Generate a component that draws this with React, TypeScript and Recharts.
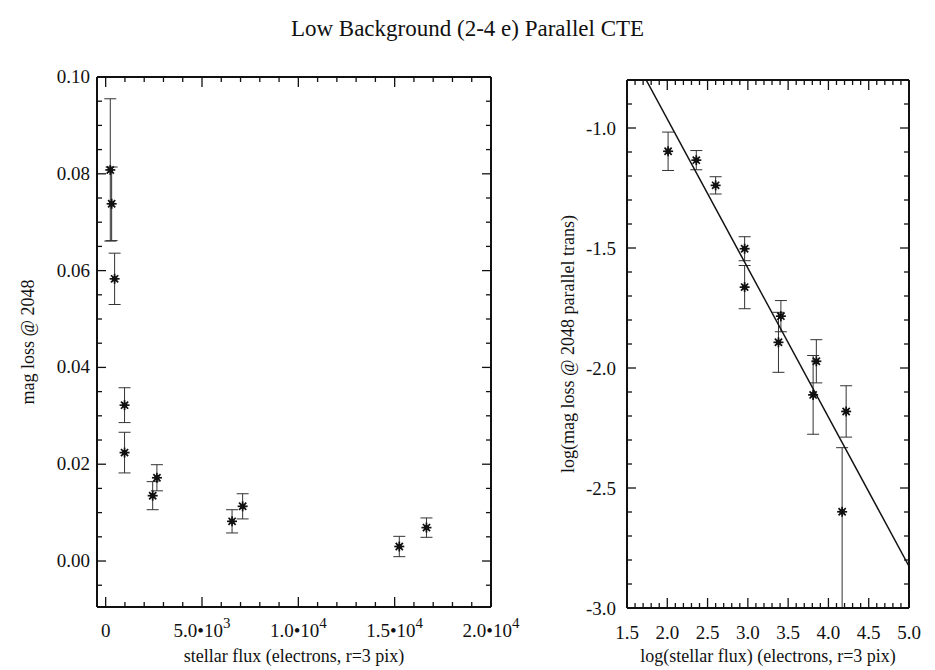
import React from 'react';
import { ScatterChart, Scatter, XAxis, YAxis, ErrorBar } from 'recharts';

// ---------- Left panel data ----------
const leftFlux = [240, 310, 464, 980, 980, 2440, 2660, 6560, 7110, 15240, 16650];
const leftMag = [0.0808, 0.0738, 0.0583, 0.0322, 0.0224, 0.0135, 0.0172, 0.0082, 0.0113, 0.003, 0.0069];
const leftErr = [0.0147, 0.0076, 0.0053, 0.0036, 0.0042, 0.0029, 0.0027, 0.0024, 0.0026, 0.0021, 0.002];

const leftXMajor = [0, 5000, 10000, 15000, 20000];
const leftXMantissa = ['0', '5.0\u202210', '1.0\u202210', '1.5\u202210', '2.0\u202210'];
const leftXExponent = ['', '3', '4', '4', '4'];
const leftXMinor = [1000, 2000, 3000, 4000, 6000, 7000, 8000, 9000, 11000, 12000, 13000, 14000, 16000, 17000, 18000, 19000];
const leftYMajor = [0, 0.02, 0.04, 0.06, 0.08, 0.1];
const leftYMinor = [-0.005, 0.005, 0.01, 0.015, 0.025, 0.03, 0.035, 0.045, 0.05, 0.055, 0.065, 0.07, 0.075, 0.085, 0.09, 0.095];

// ---------- Right panel data ----------
const logFlux = [2.01, 2.36, 2.6, 2.96, 2.96, 3.41, 3.38, 3.85, 3.81, 4.22, 4.17];
const logMag = [-1.097, -1.134, -1.239, -1.503, -1.663, -1.784, -1.893, -1.972, -2.112, -2.181, -2.599];
const logErrLow = [0.08, 0.04, 0.036, 0.05, 0.09, 0.065, 0.125, 0.09, 0.164, 0.107, 0.401];
const logErrHigh = [0.08, 0.04, 0.036, 0.05, 0.09, 0.065, 0.125, 0.09, 0.164, 0.107, 0.267];

const fitX = [1.738, 5.0];
const fitY = [-0.8, -2.826];

const rightXMajor = [1.5, 2.0, 2.5, 3.0, 3.5, 4.0, 4.5, 5.0];
const rightXMinor = [1.6, 1.7, 1.8, 1.9, 2.1, 2.2, 2.3, 2.4, 2.6, 2.7, 2.8, 2.9, 3.1, 3.2, 3.3, 3.4, 3.6, 3.7, 3.8, 3.9, 4.1, 4.2, 4.3, 4.4, 4.6, 4.7, 4.8, 4.9];
const rightYMajor = [-3.0, -2.5, -2.0, -1.5, -1.0];
const rightYMinor = [-2.9, -2.8, -2.7, -2.6, -2.4, -2.3, -2.2, -2.1, -1.9, -1.8, -1.7, -1.6, -1.4, -1.3, -1.2, -1.1, -0.9];

const leftData = leftFlux.map((x, i) => ({ x, y: leftMag[i], err: leftErr[i] }));
const rightData = logFlux.map((x, i) => ({ x, y: logMag[i], err: [logErrLow[i], logErrHigh[i]] }));
const fitData = fitX.map((x, i) => ({ x, y: fitY[i] }));

const SERIF = 'Liberation Serif';
const INK = '#111';

const Asterisk = (props: any) => {
  const { cx, cy } = props;
  if (cx == null || cy == null) return <g />;
  const r = 5;
  const d = r * 0.72;
  return (
    <g stroke={INK} strokeWidth={1.7}>
      <line x1={cx - r} y1={cy} x2={cx + r} y2={cy} />
      <line x1={cx} y1={cy - r} x2={cx} y2={cy + r} />
      <line x1={cx - d} y1={cy - d} x2={cx + d} y2={cy + d} />
      <line x1={cx - d} y1={cy + d} x2={cx + d} y2={cy - d} />
      <rect x={cx - 2.5} y={cy - 2.5} width={5} height={5} fill={INK} stroke="none" />
    </g>
  );
};

const NoShape = () => <g />;

const merge = (a: number[], b: number[]) => [...a, ...b].sort((p, q) => p - q);
const isIn = (arr: number[], v: number) => arr.some((m) => Math.abs(m - v) < 1e-9);

// Top axis tick: inward tick at the top edge
function makeTopTick(majors: number[]) {
  return (props: any) => {
    const x = Number(props.x);
    const y = Number(props.y);
    const len = isIn(majors, Number(props.payload.value)) ? 10 : 5;
    return <line x1={x} y1={y} x2={x} y2={y + len} stroke={INK} strokeWidth={1.3} />;
  };
}
// Right axis tick: inward tick at the right edge
function makeRightTick(majors: number[]) {
  return (props: any) => {
    const x = Number(props.x);
    const y = Number(props.y);
    const len = isIn(majors, Number(props.payload.value)) ? 9 : 5;
    return <line x1={x} y1={y} x2={x - len} y2={y} stroke={INK} strokeWidth={1.3} />;
  };
}

// Tick labels (drawn by outer axes)
const LeftXLabel = (props: any) => {
  const x = Number(props.x);
  const y = Number(props.y);
  const idx = leftXMajor.findIndex((m) => Math.abs(m - Number(props.payload.value)) < 1e-9);
  if (idx < 0) return <g />;
  return (
    <text x={x} y={y + 30} textAnchor="middle" fontFamily={SERIF} fontSize={19} fill={INK}>
      <tspan>{leftXMantissa[idx]}</tspan>
      {leftXExponent[idx] ? <tspan dy={-9} fontSize={15}>{leftXExponent[idx]}</tspan> : null}
    </text>
  );
};
const LeftYLabel = (props: any) => (
  <text x={Number(props.x) - 7} y={Number(props.y) + 6} textAnchor="end" fontFamily={SERIF} fontSize={19} fill={INK}>
    {Number(props.payload.value).toFixed(2)}
  </text>
);
const RightXLabel = (props: any) => (
  <text x={Number(props.x)} y={Number(props.y) + 31} textAnchor="middle" fontFamily={SERIF} fontSize={19} fill={INK}>
    {Number(props.payload.value).toFixed(1)}
  </text>
);
const RightYLabel = (props: any) => (
  <text x={Number(props.x) - 11} y={Number(props.y) + 7} textAnchor="end" fontFamily={SERIF} fontSize={19} fill={INK}>
    {Number(props.payload.value).toFixed(1)}
  </text>
);

// chart geometry
const L_LEFT = 0, L_W = 520, L_H = 670, L_M = { top: 77, right: 29, bottom: 0, left: 0 }, L_XH = 63, L_YW = 97;
const R_LEFT = 520, R_W = 415, R_H = 670, R_M = { top: 80, right: 26, bottom: 0, left: 0 }, R_XH = 62, R_YW = 107;

const LeftTopTick = makeTopTick(leftXMajor);
const LeftRightTick = makeRightTick(leftYMajor);
const RightTopTick = makeTopTick(rightXMajor);
const RightRightTick = makeRightTick(rightYMajor);

const frameLine = { stroke: INK, strokeWidth: 2 };

const LEFT_X_DOMAIN = [-450, 20000];
const LEFT_Y_DOMAIN = [-0.0095, 0.1];
const RIGHT_X_DOMAIN = [1.5, 5.0];
const RIGHT_Y_DOMAIN = [-3.0, -0.8];

const labelStyle = { fontFamily: SERIF, fontSize: 18, fill: INK };

function frameAxes(xDomain: number[], yDomain: number[], xTicks: number[], yTicks: number[], top: any, right: any, data: any[]) {
  const c = { type: 'number' as const, allowDataOverflow: true, interval: 0 as const, tickSize: 0, tickMargin: 0, tickLine: false, mirror: true };
  return [
    <XAxis key="xt" xAxisId="xt" dataKey="x" orientation="top" domain={xDomain} ticks={xTicks} tick={top} height={1} axisLine={frameLine} {...c} />,
    <YAxis key="yr" yAxisId="yr" dataKey="y" orientation="right" domain={yDomain} ticks={yTicks} tick={right} width={1} axisLine={frameLine} {...c} />,
    <Scatter key="s2" data={data} xAxisId="xt" yAxisId="yr" dataKey="y" shape={NoShape} isAnimationActive={false} legendType="none" />,
  ];
}

// Bottom-edge inward ticks: a thin strip chart whose top-edge ticks are flipped upward onto the frame
function BottomTickStrip(p: { chartLeft: number; chartW: number; plotLeft: number; plotRight: number; plotBottom: number; xDomain: number[]; yDomain: number[]; ticks: number[]; tick: any; data: any[] }) {
  const H = 20;
  return (
    <div style={{ position: 'absolute', left: p.chartLeft, top: p.plotBottom - H, width: p.chartW, height: H, transform: 'scaleY(-1)' }}>
      <ScatterChart width={p.chartW} height={H} margin={{ top: 0, bottom: 0, left: p.plotLeft, right: p.chartW - p.plotRight }}>
        <XAxis xAxisId="o" type="number" dataKey="x" orientation="top" mirror domain={p.xDomain} allowDataOverflow
          ticks={p.ticks} interval={0} tickSize={0} tickMargin={0} tickLine={false} tick={p.tick} height={1} axisLine={false} />
        <YAxis yAxisId="o" type="number" dataKey="y" hide domain={p.yDomain} allowDataOverflow />
        <Scatter data={p.data} xAxisId="o" yAxisId="o" dataKey="y" shape={NoShape} isAnimationActive={false} legendType="none" />
      </ScatterChart>
    </div>
  );
}

// Left-edge inward ticks: a thin strip chart whose right-edge ticks are flipped onto the left frame
function LeftTickStrip(p: { x: number; chartH: number; plotTop: number; plotBottom: number; xDomain: number[]; yDomain: number[]; ticks: number[]; tick: any; data: any[] }) {
  const W = 20;
  return (
    <div style={{ position: 'absolute', left: p.x, top: 0, width: W, height: p.chartH, transform: 'scaleX(-1)' }}>
      <ScatterChart width={W} height={p.chartH} margin={{ top: p.plotTop, bottom: p.chartH - p.plotBottom, left: 0, right: 0 }}>
        <XAxis xAxisId="o" type="number" dataKey="x" hide domain={p.xDomain} allowDataOverflow />
        <YAxis yAxisId="o" type="number" dataKey="y" orientation="right" mirror domain={p.yDomain} allowDataOverflow
          ticks={p.ticks} interval={0} tickSize={0} tickMargin={0} tickLine={false} tick={p.tick} width={1} axisLine={false} />
        <Scatter data={p.data} xAxisId="o" yAxisId="o" dataKey="y" shape={NoShape} isAnimationActive={false} legendType="none" />
      </ScatterChart>
    </div>
  );
}

export default function App() {
  const lPlotBottom = L_H - L_M.bottom - L_XH;
  const rPlotBottom = R_H - R_M.bottom - R_XH;
  return (
    <div style={{ position: 'absolute', left: 0, top: 0, width: 935, height: 670, background: '#fff' }}>
      <div
        style={{
          position: 'absolute', left: 0, top: 16, width: 935, textAlign: 'center',
          fontFamily: SERIF, fontSize: 23, lineHeight: '26px', color: INK,
        }}
      >
        Low Background (2-4 e) Parallel CTE
      </div>

      <div style={{ position: 'absolute', left: L_LEFT, top: 0 }}>
        <ScatterChart width={L_W} height={L_H} margin={L_M}>
          <XAxis
            xAxisId="x" type="number" dataKey="x" domain={LEFT_X_DOMAIN} allowDataOverflow
            ticks={leftXMajor} interval={0} tickSize={0} tickMargin={0} tickLine={false}
            tick={LeftXLabel} height={L_XH} axisLine={frameLine}
            label={{ value: 'stellar flux (electrons, r=3 pix)', position: 'insideBottom', offset: 8, style: labelStyle }}
          />
          <YAxis
            yAxisId="y" type="number" dataKey="y" domain={LEFT_Y_DOMAIN} allowDataOverflow
            ticks={leftYMajor} interval={0} tickSize={0} tickMargin={0} tickLine={false}
            tick={LeftYLabel} width={L_YW} axisLine={frameLine}
            label={{ value: 'mag loss @ 2048', angle: -90, position: 'insideLeft', offset: 28, style: { ...labelStyle, textAnchor: 'middle' } }}
          />
          {frameAxes(LEFT_X_DOMAIN, LEFT_Y_DOMAIN, merge(leftXMajor, leftXMinor), merge(leftYMajor, leftYMinor), LeftTopTick, LeftRightTick, leftData)}
          <Scatter data={leftData} xAxisId="x" yAxisId="y" dataKey="y" shape={Asterisk} isAnimationActive={false}>
            <ErrorBar dataKey="err" direction="y" width={6} stroke="#333" strokeWidth={1} />
          </Scatter>
        </ScatterChart>
      </div>

      <div style={{ position: 'absolute', left: R_LEFT, top: 0 }}>
        <ScatterChart width={R_W} height={R_H} margin={R_M}>
          <XAxis
            xAxisId="x" type="number" dataKey="x" domain={RIGHT_X_DOMAIN} allowDataOverflow
            ticks={rightXMajor} interval={0} tickSize={0} tickMargin={0} tickLine={false}
            tick={RightXLabel} height={R_XH} axisLine={frameLine}
            label={{ value: 'log(stellar flux) (electrons, r=3 pix)', position: 'insideBottom', offset: 8, style: labelStyle }}
          />
          <YAxis
            yAxisId="y" type="number" dataKey="y" domain={RIGHT_Y_DOMAIN} allowDataOverflow
            ticks={rightYMajor} interval={0} tickSize={0} tickMargin={0} tickLine={false}
            tick={RightYLabel} width={R_YW} axisLine={frameLine}
            label={{ value: 'log(mag loss @ 2048 parallel trans)', angle: -90, position: 'insideLeft', offset: 48, style: { ...labelStyle, textAnchor: 'middle' } }}
          />
          {frameAxes(RIGHT_X_DOMAIN, RIGHT_Y_DOMAIN, merge(rightXMajor, rightXMinor), merge(rightYMajor, rightYMinor), RightTopTick, RightRightTick, rightData)}
          <Scatter data={fitData} xAxisId="x" yAxisId="y" dataKey="y" line={{ stroke: INK, strokeWidth: 1.5 }} shape={NoShape} isAnimationActive={false} />
          <Scatter data={rightData} xAxisId="x" yAxisId="y" dataKey="y" shape={Asterisk} isAnimationActive={false}>
            <ErrorBar dataKey="err" direction="y" width={6} stroke="#333" strokeWidth={1} />
          </Scatter>
        </ScatterChart>
      </div>

      <BottomTickStrip chartLeft={L_LEFT} chartW={L_W} plotLeft={L_YW} plotRight={L_W - L_M.right} plotBottom={lPlotBottom}
        xDomain={LEFT_X_DOMAIN} yDomain={LEFT_Y_DOMAIN} ticks={merge(leftXMajor, leftXMinor)} tick={LeftTopTick} data={leftData} />
      <LeftTickStrip x={L_LEFT + L_YW} chartH={L_H} plotTop={L_M.top} plotBottom={lPlotBottom}
        xDomain={LEFT_X_DOMAIN} yDomain={LEFT_Y_DOMAIN} ticks={merge(leftYMajor, leftYMinor)} tick={LeftRightTick} data={leftData} />
      <BottomTickStrip chartLeft={R_LEFT} chartW={R_W} plotLeft={R_YW} plotRight={R_W - R_M.right} plotBottom={rPlotBottom}
        xDomain={RIGHT_X_DOMAIN} yDomain={RIGHT_Y_DOMAIN} ticks={merge(rightXMajor, rightXMinor)} tick={RightTopTick} data={rightData} />
      <LeftTickStrip x={R_LEFT + R_YW} chartH={R_H} plotTop={R_M.top} plotBottom={rPlotBottom}
        xDomain={RIGHT_X_DOMAIN} yDomain={RIGHT_Y_DOMAIN} ticks={merge(rightYMajor, rightYMinor)} tick={RightRightTick} data={rightData} />
    </div>
  );
}
